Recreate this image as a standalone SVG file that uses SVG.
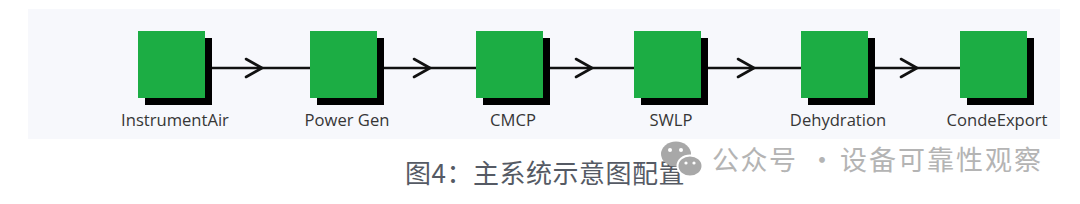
<svg xmlns="http://www.w3.org/2000/svg" width="1080" height="204" viewBox="0 0 1080 204">
<defs>
<style>
.bg{fill:#f7f8fc}
.box{fill:#1cad44}
.sh{fill:#000}
.lbl{font-family:"Open Sans","Noto Sans",sans-serif;font-size:16.6px;fill:#363636;text-anchor:middle}
.conn{fill:none;stroke:#111;stroke-width:2.4}
.cap{font-family:"Noto Sans CJK SC","Noto Sans",sans-serif;font-size:26px;fill:#555a64;letter-spacing:0.5px}
.wm{font-family:"Noto Sans CJK SC","Noto Sans",sans-serif;font-size:27px;fill:#b4b4b4}
</style>
<marker id="chev" viewBox="0 0 20 22" markerWidth="20" markerHeight="22" refX="18" refY="11" orient="auto" markerUnits="userSpaceOnUse">
<polyline points="2,2 18,11 2,20" fill="none" stroke="#111" stroke-width="2.6" stroke-linecap="round" stroke-linejoin="round"/>
</marker>
</defs>
<rect class="bg" x="28" y="9" width="1032" height="130"/>
<g id="connectors">
<path class="conn" d="M212,68 L262,68 L310,68" marker-mid="url(#chev)"/>
<path class="conn" d="M383,68 L430,68 L476,68" marker-mid="url(#chev)"/>
<path class="conn" d="M550,68 L592,68 L634,68" marker-mid="url(#chev)"/>
<path class="conn" d="M708,68 L754,68 L801,68" marker-mid="url(#chev)"/>
<path class="conn" d="M875,68 L917,68 L960,68" marker-mid="url(#chev)"/>
</g>
<g id="node-instrumentair">
<rect class="sh" x="145" y="38" width="67" height="67"/>
<rect class="box" x="138" y="31" width="67" height="67"/>
<text class="lbl" x="175" y="126">InstrumentAir</text>
</g>
<g id="node-powergen">
<rect class="sh" x="317" y="38" width="67" height="67"/>
<rect class="box" x="310" y="31" width="67" height="67"/>
<text class="lbl" x="347" y="126">Power Gen</text>
</g>
<g id="node-cmcp">
<rect class="sh" x="483" y="38" width="67" height="67"/>
<rect class="box" x="476" y="31" width="67" height="67"/>
<text class="lbl" x="513" y="126">CMCP</text>
</g>
<g id="node-swlp">
<rect class="sh" x="641" y="38" width="67" height="67"/>
<rect class="box" x="634" y="31" width="67" height="67"/>
<text class="lbl" x="671" y="126">SWLP</text>
</g>
<g id="node-dehydration">
<rect class="sh" x="808" y="38" width="67" height="67"/>
<rect class="box" x="801" y="31" width="67" height="67"/>
<text class="lbl" x="838" y="126">Dehydration</text>
</g>
<g id="node-condeexport">
<rect class="sh" x="967" y="38" width="67" height="67"/>
<rect class="box" x="960" y="31" width="67" height="67"/>
<text class="lbl" x="997" y="126">CondeExport</text>
</g>
<text class="cap" x="405" y="183">图4：主系统示意图配置</text>
<g id="watermark">
<ellipse cx="676" cy="154" rx="15" ry="12.5" fill="#a8a8a8"/>
<circle cx="670" cy="150" r="2" fill="#fff"/>
<circle cx="681" cy="150" r="2" fill="#fff"/>
<ellipse cx="690" cy="166" rx="12.5" ry="10.5" fill="#a8a8a8" stroke="#fff" stroke-width="2"/>
<circle cx="686" cy="163" r="1.6" fill="#fff"/>
<circle cx="694" cy="163" r="1.6" fill="#fff"/>
<text class="wm" x="712" y="170" letter-spacing="1.5">公众号</text>
<text class="wm" x="822" y="170" text-anchor="middle">·</text>
<text class="wm" x="840" y="170" letter-spacing="2">设备可靠性观察</text>
</g>
</svg>
